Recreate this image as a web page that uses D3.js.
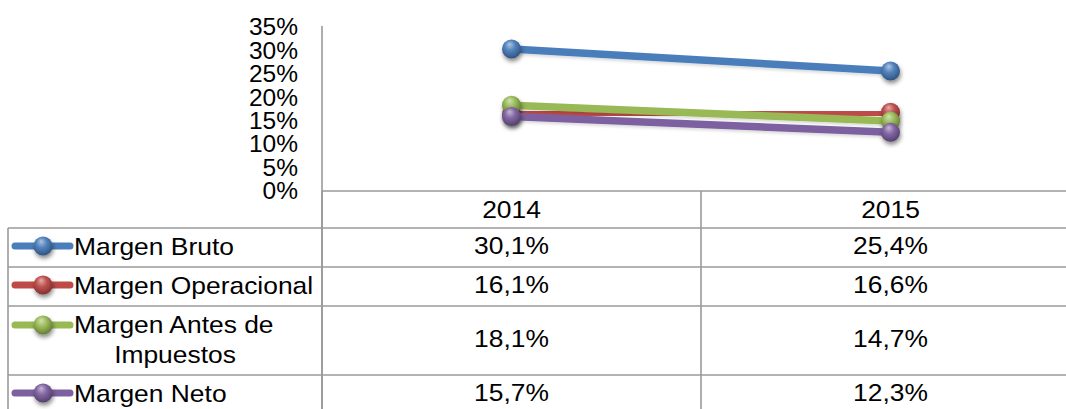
<!DOCTYPE html>
<html>
<head>
<meta charset="utf-8">
<script src="https://cdn.jsdelivr.net/npm/d3@7"></script>
<style>
  html, body { margin: 0; padding: 0; background: #fff; overflow: hidden; }
  svg { display: block; }
  text { font-family: "Liberation Sans", Arial, sans-serif; fill: #000; }
</style>
</head>
<body>
<svg id="chart" width="1066" height="409"></svg>
<script>
// ---- data ----
const years = ["2014", "2015"];
const seriesNames = ["Margen Bruto", "Margen Operacional", "Margen Antes de Impuestos", "Margen Neto"];
const margenBruto = [30.1, 25.4];
const margenOperacional = [16.1, 16.6];
const margenAntes = [18.1, 14.7];
const margenNeto = [15.7, 12.3];
const yTicks = [0, 5, 10, 15, 20, 25, 30, 35];
const seriesColors = ["#4A7EBB", "#BE4B48", "#98B954", "#7D60A0"];

const seriesValues = [margenBruto, margenOperacional, margenAntes, margenNeto];
const labelLines = [["Margen Bruto"], ["Margen Operacional"], ["Margen Antes de", "Impuestos"], ["Margen Neto"]];
const fmt = v => v.toFixed(1).replace(".", ",") + "%";

// ---- layout ----
const svg = d3.select("#chart");
const axisX = 322, plotRight = 1080, tableLeft = 8;
const yZero = 190, yTop = 26;
const headerTop = 191, headerBottom = 228;
const rowHeights = [39, 39, 69, 39];
const rowTops = [];
{ let t = headerBottom; rowHeights.forEach(h => { rowTops.push(t); t += h; }); }
const tableBottom = rowTops[3] + rowHeights[3];
const gridColor = "#9A9A9A";
const fontTable = 24, stretch = 1.1;

const x = d3.scaleBand().domain(years).range([axisX, plotRight]);
const xc = d => x(d) + x.bandwidth() / 2;
const y = d3.scaleLinear().domain([0, 35]).range([yZero, yTop]);

// ---- defs: gradients and shadow ----
const defs = svg.append("defs");
seriesColors.forEach((c, i) => {
  const g = defs.append("radialGradient").attr("id", "ball" + i)
    .attr("cx", "45%").attr("cy", "40%").attr("r", "60%").attr("fx", "40%").attr("fy", "25%");
  g.append("stop").attr("offset", "0%").attr("stop-color", d3.interpolateRgb(c, "#fff")(0.55));
  g.append("stop").attr("offset", "45%").attr("stop-color", d3.interpolateRgb(c, "#fff")(0.05));
  g.append("stop").attr("offset", "85%").attr("stop-color", d3.color(c).darker(0.7));
  g.append("stop").attr("offset", "100%").attr("stop-color", d3.color(c).darker(1.2));
});
const f = defs.append("filter").attr("id", "shadow").attr("x", "-50%").attr("y", "-50%").attr("width", "200%").attr("height", "200%");
f.append("feDropShadow").attr("dx", 1).attr("dy", 3).attr("stdDeviation", 2).attr("flood-color", "#000").attr("flood-opacity", 0.45);
const fl = defs.append("filter").attr("id", "lshadow").attr("x", "-10%").attr("y", "-50%").attr("width", "120%").attr("height", "200%");
fl.append("feDropShadow").attr("dx", 0).attr("dy", 2).attr("stdDeviation", 1.5).attr("flood-color", "#000").attr("flood-opacity", 0.15);

// ---- y axis ----
const yAxis = d3.axisLeft(y).tickValues(yTicks).tickSize(0).tickPadding(0).tickFormat(d => d + "%");
const ya = svg.append("g").attr("transform", `translate(${axisX - 24},0)`).call(yAxis);
ya.select(".domain").remove();
ya.selectAll("text").attr("font-size", 24.5).attr("font-family", "Liberation Sans, Arial, sans-serif")
  .attr("fill", "#000").attr("dy", "0.36em");

// axis lines
svg.append("line").attr("x1", axisX).attr("x2", axisX).attr("y1", yTop).attr("y2", tableBottom)
  .attr("stroke", gridColor).attr("stroke-width", 1.6);
svg.append("line").attr("x1", axisX).attr("x2", plotRight).attr("y1", headerTop).attr("y2", headerTop)
  .attr("stroke", gridColor).attr("stroke-width", 1.6);

// ---- table grid ----
const grid = svg.append("g").attr("stroke", gridColor).attr("stroke-width", 1.6);
rowTops.forEach(t => grid.append("line").attr("x1", tableLeft).attr("x2", plotRight).attr("y1", t).attr("y2", t));
grid.append("line").attr("x1", tableLeft).attr("x2", tableLeft).attr("y1", headerBottom).attr("y2", tableBottom);
years.forEach(yr => {
  grid.append("line").attr("x1", x(yr)).attr("x2", x(yr)).attr("y1", headerTop).attr("y2", tableBottom);
});

// header text
years.forEach(yr => {
  svg.append("text").attr("text-anchor", "middle").attr("font-size", fontTable)
    .attr("transform", `translate(${xc(yr)},${(headerTop + headerBottom) / 2 + 8.5}) scale(${stretch},1)`)
    .text(yr);
});

// rows
seriesNames.forEach((name, i) => {
  const top = rowTops[i], h = rowHeights[i], mid = top + h / 2;
  years.forEach((yr, j) => {
    svg.append("text").attr("text-anchor", "middle").attr("font-size", fontTable)
      .attr("transform", `translate(${xc(yr)},${mid + 6.5}) scale(${stretch},1)`)
      .text(fmt(seriesValues[i][j]));
  });
  const lines = labelLines[i];
  const markY = lines.length > 1 ? top + 19 : mid - 1.5;
  svg.append("line").attr("x1", 15).attr("x2", 70).attr("y1", markY).attr("y2", markY)
    .attr("stroke", seriesColors[i]).attr("stroke-width", 7).attr("stroke-linecap", "round");
  svg.append("circle").attr("cx", 43).attr("cy", markY).attr("r", 9.5)
    .attr("fill", `url(#ball${i})`).attr("filter", "url(#shadow)");
  if (lines.length === 1) {
    svg.append("text").attr("font-size", fontTable)
      .attr("transform", `translate(74,${mid + 7}) scale(${stretch},1)`).text(lines[0]);
  } else {
    svg.append("text").attr("font-size", fontTable)
      .attr("transform", `translate(74,${top + 27}) scale(${stretch},1)`).text(lines[0]);
    svg.append("text").attr("font-size", fontTable).attr("text-anchor", "middle")
      .attr("transform", `translate(175,${top + 57}) scale(${stretch},1)`).text(lines[1]);
  }
});

// ---- plot lines and markers ----
const lineGen = d3.line().x((d, j) => xc(years[j])).y(d => y(d));
seriesValues.forEach((vals, i) => {
  svg.append("path").datum(vals).attr("d", lineGen).attr("fill", "none")
    .attr("stroke", seriesColors[i]).attr("stroke-width", 7.5).attr("filter", "url(#lshadow)");
  svg.selectAll(null).data(vals).enter().append("circle")
    .attr("cx", (d, j) => xc(years[j])).attr("cy", d => y(d)).attr("r", 9.5)
    .attr("fill", `url(#ball${i})`).attr("filter", "url(#shadow)");
});
</script>
</body>
</html>
